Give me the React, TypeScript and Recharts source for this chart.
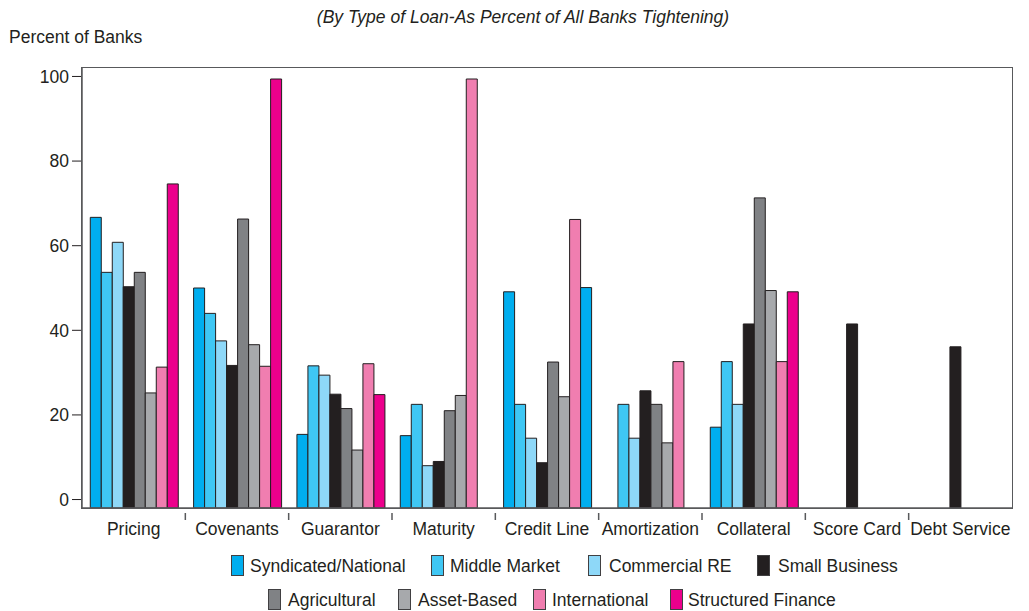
import { BarChart, Bar, XAxis, YAxis, Cell } from 'recharts'

const categories = ['Pricing', 'Covenants', 'Guarantor', 'Maturity', 'Credit Line', 'Amortization', 'Collateral', 'Score Card', 'Debt Service']

const syndicated = [66.7, 50, 15.4, 15.1, 49.1, null, 17.1, null, null]
const middleMarket = [53.7, 44, 31.6, 22.5, 22.5, 22.5, 32.6, null, null]
const commercialRE = [60.8, 37.5, 29.4, 8, 14.5, 14.5, 22.5, null, null]
const smallBusiness = [50.3, 31.7, 24.9, 9, 8.7, 25.7, 41.5, 41.5, 36.1]
const agricultural = [53.7, 66.3, 21.5, 21, 32.5, 22.5, 71.3, null, null]
const assetBased = [25.2, 36.6, 11.7, 24.6, 24.3, 13.4, 49.4, null, null]
const international = [31.3, 31.5, 32.1, 99.4, 66.2, 32.6, 32.6, null, null]
const structuredFinance = [74.6, 99.4, 24.8, null, 50.1, null, 49.1, null, null]

const yTicks = [0, 20, 40, 60, 80, 100]

const series = [
  { key: 'syndicated', name: 'Syndicated/National', color: '#00aeef', values: syndicated },
  { key: 'middleMarket', name: 'Middle Market', color: '#3fc7f4', values: middleMarket },
  { key: 'commercialRE', name: 'Commercial RE', color: '#8ed8f8', values: commercialRE },
  { key: 'smallBusiness', name: 'Small Business', color: '#231f20', values: smallBusiness },
  { key: 'agricultural', name: 'Agricultural', color: '#808285', values: agricultural },
  { key: 'assetBased', name: 'Asset-Based', color: '#a7a9ac', values: assetBased },
  { key: 'international', name: 'International', color: '#f07eb0', values: international },
  { key: 'structuredFinance', name: 'Structured Finance', color: '#ec008c', values: structuredFinance },
]

// the credit line structured finance bar is printed in the syndicated blue
const oddColors: Record<string, string> = { 'structuredFinance-4': '#00aeef' }

const data = categories.map((name, i) => {
  const row: Record<string, any> = { name }
  series.forEach((s) => {
    row[s.key] = s.values[i]
  })
  return row
})

const FONT = '"Liberation Sans", Arial, Helvetica, sans-serif'
const FS = 17.5
const PLOT_LEFT = 82
const PLOT_RIGHT = 1012
const PLOT_TOP = 68
const PLOT_BOTTOM = 508
const BAND = (PLOT_RIGHT - PLOT_LEFT) / categories.length

function CategoryTick({ x, y, payload, index }: any) {
  return (
    <g>
      <text x={x} y={y + 25} textAnchor="middle" fontSize={FS} fill="#231f20" fontFamily={FONT}>
        {payload.value}
      </text>
      {index < categories.length - 1 && (
        <line x1={x + BAND / 2} x2={x + BAND / 2} y1={y + 3} y2={y + 10} stroke="#58595b" strokeWidth={1.5} />
      )}
    </g>
  )
}

const legendRow1 = [
  { i: 0, sx: 231, tx: 250 },
  { i: 1, sx: 431, tx: 450 },
  { i: 2, sx: 588, tx: 609 },
  { i: 3, sx: 757, tx: 778 },
]
const legendRow2 = [
  { i: 4, sx: 268, tx: 288 },
  { i: 5, sx: 398, tx: 418 },
  { i: 6, sx: 533, tx: 552 },
  { i: 7, sx: 670, tx: 688 },
]

function LegendItem({ i, sx, tx, top }: { i: number; sx: number; tx: number; top: number }) {
  const s = series[i]
  return (
    <>
      <div
        style={{
          position: 'absolute',
          left: sx,
          top: top - 11,
          width: 13,
          height: 21,
          background: s.color,
          border: '1px solid #414042',
          boxSizing: 'border-box',
        }}
      />
      <div style={{ position: 'absolute', left: tx, top: top - 11, fontSize: FS, lineHeight: '22px', color: '#231f20', whiteSpace: 'nowrap' }}>
        {s.name}
      </div>
    </>
  )
}

export default function App() {
  return (
    <div style={{ position: 'absolute', left: 0, top: 0, width: 1029, height: 611, background: '#fff', fontFamily: FONT }}>
      <div style={{ position: 'absolute', left: 0, width: 1046, top: 7, textAlign: 'center', fontSize: FS, fontStyle: 'italic', color: '#231f20' }}>
        (By Type of Loan-As Percent of All Banks Tightening)
      </div>
      <div style={{ position: 'absolute', left: 9, top: 27, fontSize: FS, color: '#231f20' }}>Percent of Banks</div>
      <BarChart
        width={1029}
        height={611}
        data={data}
        margin={{ top: PLOT_TOP, right: 1029 - PLOT_RIGHT, bottom: 611 - PLOT_BOTTOM - 30, left: 0 }}
        barCategoryGap="8%"
        barGap={0}
      >
        <XAxis
          dataKey="name"
          tick={<CategoryTick />}
          tickLine={false}
          tickSize={0}
          height={30}
          interval={0}
          axisLine={{ stroke: '#58595b', strokeWidth: 1.5 }}
        />
        <YAxis
          domain={[-2, 102]}
          ticks={yTicks}
          width={PLOT_LEFT}
          tickSize={10}
          tickMargin={3}
          tickLine={{ stroke: '#231f20', strokeWidth: 1 }}
          tick={{ fontSize: FS, fill: '#231f20', fontFamily: FONT }}
          axisLine={{ stroke: '#58595b', strokeWidth: 1.5 }}
          allowDataOverflow
        />
        {series.map((s) => (
          <Bar
            key={s.key}
            name={s.name}
            dataKey={(d: any) => (d[s.key] == null ? null : [-2, d[s.key]])}
            fill={s.color}
            stroke="#231f20"
            strokeWidth={1}
            isAnimationActive={false}
          >
            {data.map((_, idx) => (
              <Cell key={idx} fill={oddColors[`${s.key}-${idx}`] ?? s.color} />
            ))}
          </Bar>
        ))}
      </BarChart>
      <div
        style={{
          position: 'absolute',
          left: PLOT_LEFT - 0.75,
          top: PLOT_TOP - 0.75,
          width: PLOT_RIGHT - PLOT_LEFT + 1.5,
          height: PLOT_BOTTOM - PLOT_TOP + 1.5,
          border: '1.5px solid #58595b',
          boxSizing: 'border-box',
          pointerEvents: 'none',
        }}
      />
      {legendRow1.map((l) => (
        <LegendItem key={l.i} {...l} top={566} />
      ))}
      {legendRow2.map((l) => (
        <LegendItem key={l.i} {...l} top={600} />
      ))}
    </div>
  )
}
